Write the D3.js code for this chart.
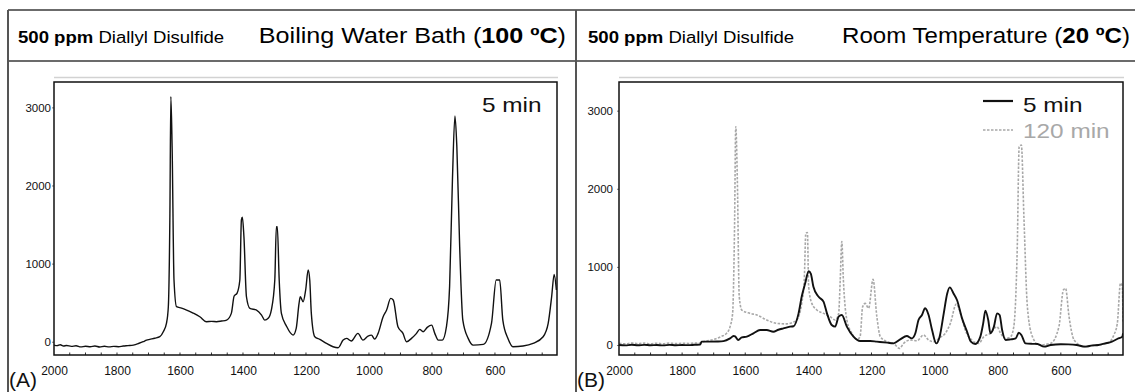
<!DOCTYPE html>
<html><head><meta charset="utf-8">
<script src="https://cdn.jsdelivr.net/npm/d3@7"></script>
<style>html,body{margin:0;padding:0;background:#fff}svg{display:block}</style>
</head><body><svg id="c" width="1135" height="392"></svg>
<script>
// ---------- data ----------
const xTickValues = [2000, 1800, 1600, 1400, 1200, 1000, 800, 600];
const yTickValues = [0, 1000, 2000, 3000];
const panelLetters = ["(A)", "(B)"];
const panelTitles = ["Boiling Water Bath (", "Room Temperature ("];
const panelTemps = ["100 ºC", "20 ºC"];
const legendLabels = ["5 min", "120 min"];

// Panel A: boiling water bath, 5 min
const wnA = [2000,1990,1980,1970,1960,1945,1930,1915,1900,1885,1870,1855,1840,1825,1810,1795,1780,1765,1748,1730,1717,1706,1696,1680,1664,1653,1643,1637,1632,1629,1625,1619,1611,1595,1579,1560,1537,1516,1500,1484,1468,1452,1437,1428,1419,1410,1405,1402,1397,1389,1378,1357,1341,1331,1320,1310,1299,1294,1291,1285,1278,1262,1241,1231,1222,1218,1209,1201,1193,1188,1183,1172,1156,1135,1114,1098,1082,1071,1056,1035,1019,1003,992,982,971,955,944,931,923,908,892,881,865,849,839,828,815,801,791,780,767,754,744,735,727,721,712,702,685,669,637,611,596,585,575,559,543,511,479,447,431,420,412,405];
const valA = [-43,-50,-38,-55,-48,-60,-52,-66,-58,-64,-55,-68,-58,-66,-60,-64,-55,-50,-43,-20,0,20,30,45,64,128,235,448,1644,3138,2498,790,448,430,405,370,320,256,260,256,265,277,363,585,619,790,1559,1593,1345,576,427,405,341,277,299,405,790,1473,1473,790,363,200,85,171,491,576,512,662,918,790,363,64,30,-21,-64,-77,21,43,9,107,21,73,85,34,107,320,405,555,534,192,107,0,43,107,158,128,184,213,107,21,21,192,705,2071,2891,2498,1217,277,43,-43,-34,235,790,790,277,43,-64,-55,-21,64,235,576,862,662];

// Panel B: room temperature, 5 min
const wnB5 = [2000,1980,1960,1940,1920,1900,1880,1860,1840,1820,1800,1780,1760,1743,1738,1711,1690,1669,1648,1637,1632,1622,1611,1595,1574,1553,1532,1511,1495,1479,1458,1447,1431,1421,1410,1399,1392,1384,1368,1352,1341,1326,1315,1304,1294,1278,1257,1236,1204,1183,1150,1130,1109,1088,1072,1061,1051,1040,1030,1019,1008,995,984,971,960,952,940,929,913,897,885,871,855,846,839,830,823,812,802,794,786,775,759,743,733,725,712,690,674,653,632,600,576,550,523,500,481,460,438,420,405,403];
const valB5 = [0,-5,3,-4,2,-3,0,-5,2,-3,0,-2,3,5,43,43,45,50,85,115,110,64,98,107,150,192,192,170,195,213,235,240,405,620,790,945,910,745,620,555,405,256,235,363,384,235,107,51,51,43,30,21,72,115,85,150,320,384,470,384,192,21,107,405,660,738,660,576,341,170,43,13,107,277,440,320,150,235,405,384,192,64,72,85,158,128,21,15,13,-21,0,10,8,0,-21,-5,0,20,43,80,107,150];

// Panel B: room temperature, 120 min
const wnB120 = [2000,1980,1960,1940,1920,1900,1880,1860,1840,1820,1800,1780,1760,1743,1733,1710,1690,1675,1659,1648,1640,1634,1630,1625,1619,1611,1585,1563,1532,1500,1468,1450,1437,1421,1413,1408,1403,1399,1389,1373,1352,1331,1315,1304,1299,1294,1289,1278,1262,1246,1236,1228,1220,1209,1195,1183,1172,1151,1130,1111,1098,1077,1056,1035,1019,1003,982,966,950,931,918,903,882,860,844,823,802,791,775,759,749,738,732,725,717,706,690,669,632,606,592,585,574,558,527,484,453,432,421,411,405,403];
const valB120 = [21,15,25,18,24,16,22,15,24,18,22,20,25,25,43,60,85,110,150,235,405,1472,2795,2113,620,448,405,384,320,277,270,290,320,535,832,1430,1440,745,533,448,405,363,320,405,832,1323,830,320,150,72,107,490,533,470,840,363,107,43,21,-43,21,64,55,128,64,43,98,150,277,525,405,192,64,21,107,150,235,150,85,107,235,1259,2540,2560,1643,490,107,0,21,235,704,725,363,64,-21,0,21,128,277,790,750,300];

// ---------- drawing ----------
const FONT = "'Liberation Sans', Arial, Helvetica, sans-serif";
const SX = 1.16; // horizontal stretch of the original figure's text
const svg = d3.select("#c");

// table-like borders
const border = "#3a3a3a";
svg.append("line").attr("x1", 8).attr("x2", 1135).attr("y1", 10).attr("y2", 10).attr("stroke", border).attr("stroke-width", 1.5);
svg.append("line").attr("x1", 8).attr("x2", 1135).attr("y1", 61).attr("y2", 61).attr("stroke", border).attr("stroke-width", 1.5);
[8, 576].forEach(x => svg.append("line").attr("x1", x).attr("x2", x).attr("y1", 10).attr("y2", 392).attr("stroke", "#555").attr("stroke-width", 2));

function stretchedText(g, x, y, size, anchor, sx) {
  return g.append("text").attr("transform", `translate(${x},${y}) scale(${sx || SX},1)`)
    .attr("font-family", FONT).attr("font-size", size).attr("text-anchor", anchor || "start");
}

const panels = [
  { left: 54, right: 557, top: 82, bottom: 355, yDom: [-170, 3325], subX: 18, titleX: 566, titleSX: 1.17, ytPad: 1, series: [{ wn: wnA, val: valA, dash: null, color: "#111", w: 1.4 }] },
  { left: 619, right: 1123, top: 82, bottom: 355, yDom: [-128, 3367], subX: 588, titleX: 1130, titleSX: 1.12, ytPad: 4, series: [
      { wn: wnB120, val: valB120, dash: "2.5,1.5", color: "#a8a8a8", w: 1.6 },
      { wn: wnB5, val: valB5, dash: null, color: "#111", w: 1.9 } ] }
];

panels.forEach((p, i) => {
  const g = svg.append("g");
  // header texts
  const sub = stretchedText(g, p.subX, 43, 16);
  sub.append("tspan").attr("font-weight", "bold").text("500 ppm");
  sub.append("tspan").text(" Diallyl Disulfide");
  const tt = stretchedText(g, p.titleX, 43, 21.5, "end", p.titleSX);
  tt.append("tspan").text(panelTitles[i]);
  tt.append("tspan").attr("font-weight", "bold").text(panelTemps[i]);
  tt.append("tspan").text(")");

  const x = d3.scaleLinear().domain([2000, 403]).range([p.left, p.right]);
  const y = d3.scaleLinear().domain(p.yDom).range([p.bottom, p.top]);

  // shadow line above frame
  g.append("line").attr("x1", p.left).attr("x2", p.right + 1).attr("y1", 77.5).attr("y2", 77.5)
    .attr("stroke", "#d2d2d2").attr("stroke-width", 1.5);

  // clip
  const cid = "clip" + i;
  svg.append("clipPath").attr("id", cid).append("rect")
    .attr("x", p.left).attr("y", p.top).attr("width", p.right - p.left).attr("height", p.bottom - p.top);

  // minor ticks (inward)
  const minor = d3.range(1950, 403, -50);
  g.append("g").selectAll("line").data(minor).join("line")
    .attr("x1", d => x(d)).attr("x2", d => x(d)).attr("y1", p.bottom).attr("y2", p.bottom - 2.5)
    .attr("stroke", "#333").attr("stroke-width", 1);

  // x axis
  const xa = g.append("g").attr("transform", `translate(0,${p.bottom})`)
    .call(d3.axisBottom(x).tickValues(xTickValues).tickSize(0).tickPadding(11).tickFormat(d3.format("d")));
  xa.select(".domain").remove();
  xa.selectAll("text").attr("font-family", FONT).attr("font-size", 12).attr("fill", "#111");

  // y axis
  const ya = g.append("g").attr("transform", `translate(${p.left},0)`)
    .call(d3.axisLeft(y).tickValues(yTickValues).tickSize(2).tickPadding(p.ytPad).tickFormat(d3.format("d")));
  ya.select(".domain").remove();
  ya.selectAll("line").attr("stroke", "#777");
  ya.selectAll("text").attr("font-family", FONT).attr("font-size", 11.5).attr("fill", "#111");

  // series
  const line = d3.line().x(d => d[0]).y(d => d[1]).curve(d3.curveMonotoneX);
  p.series.forEach(s => {
    const pts = s.wn.map((w, k) => [x(w), y(s.val[k])]);
    g.append("path").attr("clip-path", `url(#${cid})`).attr("d", line(pts))
      .attr("fill", "none").attr("stroke", s.color).attr("stroke-width", s.w)
      .attr("stroke-dasharray", s.dash).attr("stroke-linejoin", "round");
  });

  // frame
  g.append("rect").attr("x", p.left).attr("y", p.top).attr("width", p.right - p.left).attr("height", p.bottom - p.top)
    .attr("fill", "none").attr("stroke", "#111").attr("stroke-width", 1.5);

  // panel letter
  stretchedText(g, i === 0 ? 9 : 577, 387, 20, "start", 1.05).text(panelLetters[i]).attr("fill", "#111");
});

// panel A label
stretchedText(svg, 482, 112, 21).text(legendLabels[0]).attr("fill", "#111");

// panel B legend
const lg = svg.append("g");
lg.append("line").attr("x1", 983).attr("x2", 1013).attr("y1", 101).attr("y2", 101).attr("stroke", "#111").attr("stroke-width", 2.2);
stretchedText(lg, 1023, 112, 21).text(legendLabels[0]).attr("fill", "#111");
lg.append("line").attr("x1", 983).attr("x2", 1013).attr("y1", 130).attr("y2", 130).attr("stroke", "#a8a8a8").attr("stroke-width", 1.4).attr("stroke-dasharray", "2.5,1.5");
stretchedText(lg, 1023, 138, 21).text(legendLabels[1]).attr("fill", "#a8a8a8");
</script>
</body></html>
